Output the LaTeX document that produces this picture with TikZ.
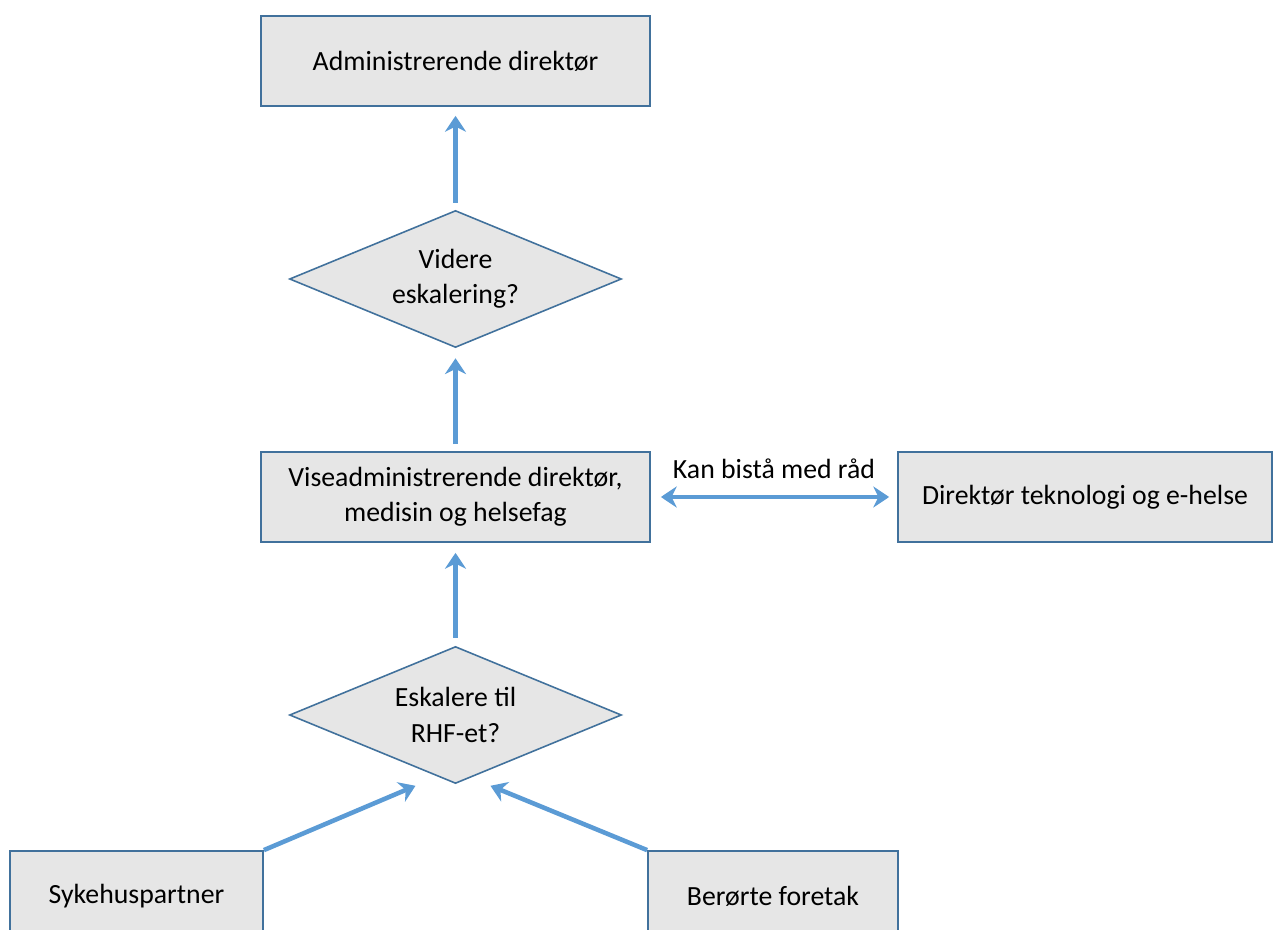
\documentclass[tikz,border=0pt]{standalone}
\usepackage{fontspec}
\setmainfont{Carlito}
\usetikzlibrary{arrows.meta,shapes,calc,positioning}
\definecolor{kant}{HTML}{41719C}
\definecolor{pil}{HTML}{5B9BD5}
\definecolor{fyll}{HTML}{E6E6E6}
\tikzset{
	every node/.style={
		font=\fontsize{15.8}{20}\selectfont
	},
	boks/.style={
		shape=rectangle,
		minimum height=1.8cm,
		minimum width=7.78cm,
		align=center,
		fill=fyll,
		draw=kant,
		line width=1pt,
	},
	valg/.style={
		shape=diamond,
		aspect=2.42,
		minimum width=6.64cm,
		minimum height=2.74cm,
		inner sep=0pt,
		align=center,
		fill=fyll,
		draw=kant,
		line width=0.9pt,
	},
	pilen/.style={-{Stealth[length=9pt,width=12pt]}, draw=pil, line width=2.6pt},
	dobbelpil/.style={{Stealth[length=9pt,width=12pt]}-{Stealth[length=9pt,width=12pt]}, draw=pil, line width=2.6pt},
}

\begin{document}
\begin{tikzpicture}[node distance=4.36cm]
	\useasboundingbox (0,0) rectangle (25.48,-18.6);
	\clip (0,0) rectangle (25.48,-18.6);
	
	\node[boks]                       (adm)    at (9.11,-1.22)     {Administrerende direktør};
	\node[valg]                       (videre) [below of=adm]      {Videre\\eskalering?};
	\node[boks]                       (vad)    [below of=videre]   {Viseadministrerende direktør,\\medisin og helsefag};
	\node[valg]                       (rhf)    [below of=vad]      {Eskalere til\\RHF-et?};
	\node[boks, minimum width=7.48cm] (tek)    [right of=vad, node distance=12.59cm] {Direktør teknologi og e-helse};
	\node[boks, minimum width=5.06cm] (sp)     at (2.73,-17.92)    {Sykehuspartner};
	\node[boks, minimum width=5cm]    (bf)     at (15.46,-17.92)   {Berørte foretak};
	\coordinate (inn1) at ($(rhf.south)+(-0.8,-0.03)$);
	\coordinate (inn2) at ($(rhf.south)+(0.7,-0.03)$);
	
	\draw[pilen, shorten <=0.14cm, shorten >=0.18cm] (videre.north) -- (adm.south);
	\draw[pilen, shorten <=0.14cm, shorten >=0.2cm]  (vad.north) -- (videre.south);
	\draw[pilen, shorten <=0.16cm, shorten >=0.2cm]  (rhf.north) -- (vad.south);
	\draw[dobbelpil, shorten <=0.2cm, shorten >=0.16cm] (vad.east) -- node[above=0.2cm] {Kan bistå med råd} (tek.west);
	\draw[pilen] (sp.north east) -- (inn1);
	\draw[pilen] (bf.north west) -- (inn2);
\end{tikzpicture}
\end{document}
